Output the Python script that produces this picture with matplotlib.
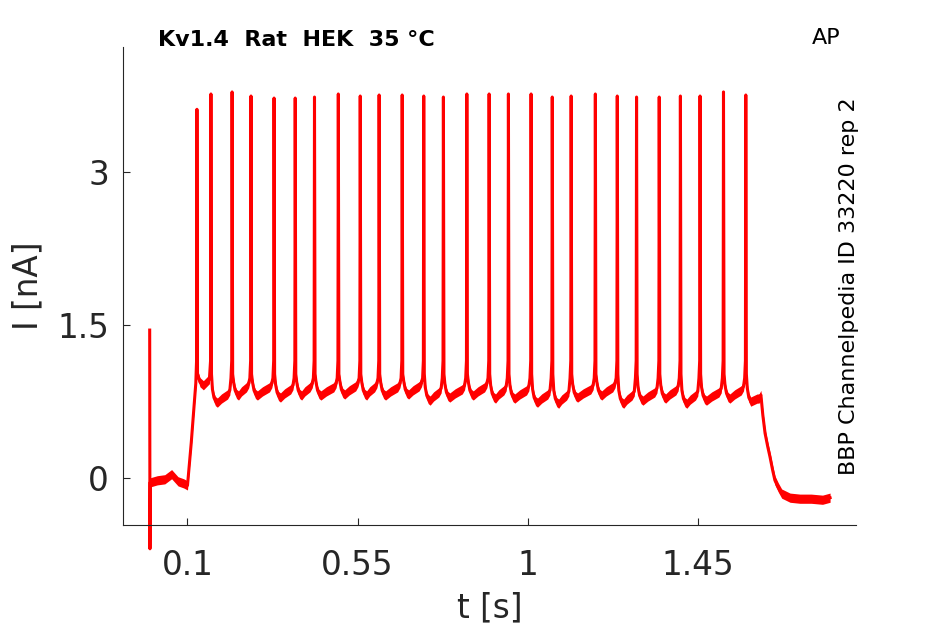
import numpy as np
import matplotlib
matplotlib.use('Agg')
import matplotlib.pyplot as plt

# spike times [s] and peak currents [nA]
spike_t = [0.125, 0.162, 0.218, 0.268, 0.329, 0.385, 0.436, 0.499, 0.557,
           0.607, 0.668, 0.725, 0.777, 0.839, 0.898, 0.949, 1.009, 1.065,
           1.115, 1.179, 1.237, 1.288, 1.348, 1.404, 1.456, 1.518, 1.577]
spike_peak = [3.61, 3.76, 3.78, 3.74, 3.72, 3.72, 3.73, 3.76, 3.74, 3.75,
              3.75, 3.74, 3.73, 3.76, 3.76, 3.76, 3.76, 3.73, 3.74, 3.76,
              3.74, 3.73, 3.73, 3.74, 3.74, 3.78, 3.75]
# trough level after each spike
trough = [0.93, 0.74, 0.81, 0.81, 0.79, 0.81, 0.81, 0.82, 0.81, 0.81, 0.82,
          0.76, 0.79, 0.81, 0.78, 0.78, 0.74, 0.73, 0.79, 0.81, 0.73, 0.76,
          0.78, 0.73, 0.76, 0.78, 0.75]

# holding part before the step (incl. capacitive artefact at t=0)
pre_t = [0.0, 0.0007, 0.0015, 0.02, 0.04, 0.058, 0.075, 0.09, 0.1, 0.11, 0.122]
pre_i = [1.45, -0.69, -0.04, -0.02, -0.01, 0.04, -0.03, -0.05, -0.07, 0.35, 0.93]
# end of the step and return to holding
post_t = [1.617, 1.622, 1.628, 1.635, 1.641, 1.648, 1.654, 1.663, 1.672,
          1.694, 1.72, 1.75, 1.78, 1.80]
post_i = [0.815, 0.62, 0.44, 0.31, 0.21, 0.08, -0.02, -0.09, -0.15,
          -0.19, -0.2, -0.2, -0.21, -0.19]

t = list(pre_t)
y = list(pre_i)
for k in range(len(spike_t)):
    ts = spike_t[k]
    tr = trough[k]
    t += [ts - 0.001, ts, ts + 0.0015]
    y += [1.15, spike_peak[k], 1.02]
    if k + 1 < len(spike_t):
        tn = spike_t[k + 1]
        if k == 0:
            t += [ts + 0.008, tn - 0.02, tn - 0.004]
            y += [0.94, 0.91, 0.97]
        else:
            t += [ts + 0.004, ts + 0.008, ts + 0.012, ts + 0.017,
                  (ts + tn) / 2, tn - 0.012, tn - 0.006, tn - 0.003]
            y += [tr + 0.13, tr + 0.05, tr + 0.015, tr,
                  tr + 0.04, tr + 0.08, tr + 0.12, 0.98]
    else:
        t += [ts + 0.004, ts + 0.008, ts + 0.013, ts + 0.03, 1.612]
        y += [tr + 0.13, tr + 0.04, tr, tr + 0.03, 0.78]
t += post_t
y += post_i
t = np.array(t)
y = np.array(y)

fig = plt.figure(figsize=(9.45, 6.24), dpi=100)
ax = fig.add_axes([0.130, 0.1587, 0.776, 0.766])

red = '#ff0000'
ax.fill_between(t, y - 0.045, y + 0.045, color=red, lw=0)
ax.plot(t, y, color=red, lw=2.2, clip_on=False)

ax.set_xlim(-0.071, 1.869)
ax.set_ylim(-0.457, 4.22)
ax.set_xticks([0.1, 0.55, 1, 1.45])
ax.set_xticklabels(['0.1', '0.55', '1', '1.45'])
ax.set_yticks([0, 1.5, 3])
ax.set_yticklabels(['0', '1.5', '3'])

gray = '#262626'
for s in ['top', 'right']:
    ax.spines[s].set_visible(False)
for s in ['left', 'bottom']:
    ax.spines[s].set_color(gray)
    ax.spines[s].set_linewidth(0.8)
ax.tick_params(direction='in', length=5, width=0.8, colors=gray,
               labelsize=23.5)
ax.tick_params(axis='x', pad=17)
ax.tick_params(axis='y', pad=10)
ax.set_xlabel('t [s]', fontsize=23.5, color=gray, labelpad=7)
ax.set_ylabel('I [nA]', fontsize=23.5, color=gray, labelpad=9)

fig.text(158 / 945, 1 - 40 / 624, 'Kv1.4  Rat  HEK  35 °C', fontsize=16,
         fontweight='bold', ha='left', va='center')
fig.text(826 / 945, 1 - 38 / 624, 'AP', fontsize=16, ha='center', va='center')
fig.text(849 / 945, 1 - 286 / 624, 'BBP Channelpedia ID 33220 rep 2',
         fontsize=16, rotation=90, ha='center', va='center')

fig.savefig('out.png', dpi=100)
